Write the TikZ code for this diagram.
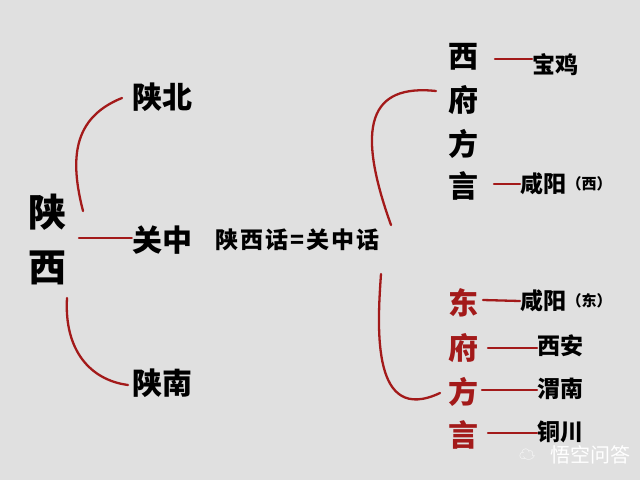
\documentclass[tikz,border=0pt]{standalone}
\usepackage{fontspec}
\newfontfamily\cjk{Noto Sans CJK SC}
\definecolor{bg}{HTML}{E0E0E0}
\definecolor{dred}{HTML}{A31A1A}
\begin{document}
\begin{tikzpicture}[x=1pt,y=-1pt,
  ch/.style={inner sep=0pt,font=\cjk\bfseries\fontsize{30}{30}\selectfont},
  big/.style={inner sep=0pt,font=\cjk\bfseries\fontsize{38}{38}\selectfont},
  lab/.style={inner sep=0pt,font=\cjk\bfseries\fontsize{23}{23}\selectfont},
  small/.style={inner sep=0pt,font=\cjk\bfseries\fontsize{15}{15}\selectfont},
  link/.style={draw=dred,line width=2.3pt,line cap=round}]
\fill[bg] (0,0) rectangle (640,480);
\useasboundingbox (0,0) rectangle (640,480);
% left
\node[big] (s1) at (47,212) {陕};
\node[big] (s2) at (47,268) {西};
\node[ch] (bei) at (162,97) {陕北};
\node[ch] (zhong) at (162,240) {关中};
\node[ch] (nan) at (162,383) {陕南};
\node[lab] (eq) at (298,240) {陕\kern2pt 西\kern2pt 话\kern2pt =\kern2pt 关\kern2pt 中\kern2pt 话};
\coordinate (a1) at (83,211);
\coordinate (a2) at (122,98);
\draw[link] (a1) .. controls (70,160) and (72,118) .. (a2);
\coordinate (b1) at (79,238);
\draw[link] (b1) -- (zhong.west |- b1);
\coordinate (c1) at (67,298);
\coordinate (c2) at (128,385);
\draw[link] (c1) .. controls (64,350) and (90,380) .. (c2);
% west fu
\node[ch] (w1) at (463,57) {西};
\node[ch] (w2) at (463,100) {府};
\node[ch] (w3) at (463,144) {方};
\node[ch] (w4) at (463,186) {言};
\node[lab,anchor=west] (bj) at (532,65) {宝鸡};
\node[lab,anchor=west] (xy1) at (520,184) {咸阳};
\node[small,anchor=west] (xy1s) at (xy1.east) {（西）};
\coordinate (wl1) at (495,59);
\draw[link] (wl1) -- (bj.west |- wl1);
\coordinate (wl4) at (494,184);
\draw[link] (wl4) -- (xy1.west);
\coordinate (d1) at (436,91);
\coordinate (d2) at (391,225);
\draw[link] (d1) .. controls (370,84) and (355,125) .. (d2);
% east fu
\node[ch,text=dred] (e1) at (463,303) {东};
\node[ch,text=dred] (e2) at (463,348) {府};
\node[ch,text=dred] (e3) at (463,392) {方};
\node[ch,text=dred] (e4) at (463,435) {言};
\node[lab,anchor=west] (xy2) at (520,301) {咸阳};
\node[small,anchor=west] (xy2s) at (xy2.east) {（东）};
\node[lab,anchor=west] (xa) at (537,346) {西安};
\node[lab,anchor=west] (wn) at (537,389) {渭南};
\node[lab,anchor=west] (tc) at (537,432) {铜川};
\coordinate (el1) at (483,300);
\draw[link] (el1) -- (xy2.west);
\coordinate (el2) at (488,348);
\draw[link] (el2) -- (xa.west |- el2);
\coordinate (el3) at (482,390);
\draw[link] (el3) -- (wn.west |- el3);
\coordinate (el4) at (488,433);
\draw[link] (el4) -- (tc.west |- el4);
\coordinate (f1) at (381,274);
\coordinate (f2) at (440,393);
\draw[link] (f1) .. controls (377,330) and (372,425) .. (f2);
% watermark
\node[inner sep=0pt,text=white,font=\cjk\fontsize{20}{20}\selectfont] (wm) at (590,455) {悟空问答};
\node[inner sep=0pt,text=white,font=\cjk\fontsize{16}{16}\selectfont] (wmi) at (527,455) {☁};
\end{tikzpicture}
\end{document}
